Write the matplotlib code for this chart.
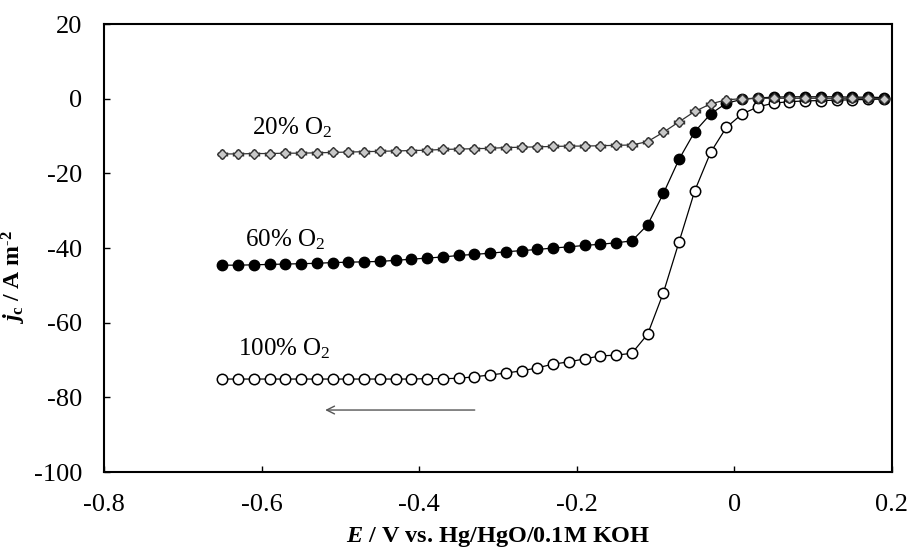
import matplotlib
matplotlib.use("Agg")
import matplotlib.pyplot as plt
import numpy as np

plt.rcParams['font.family'] = ['Liberation Serif', 'DejaVu Serif']
plt.rcParams['mathtext.fontset'] = 'custom'
plt.rcParams['mathtext.rm'] = 'Liberation Serif'
plt.rcParams['mathtext.it'] = 'Liberation Serif:italic:bold'
plt.rcParams['mathtext.bf'] = 'Liberation Serif:bold'
plt.rcParams['axes.unicode_minus'] = False

# ---- data ----
potential = [-0.65, -0.63, -0.61, -0.59, -0.57, -0.55, -0.53, -0.51, -0.49, -0.47,
             -0.45, -0.43, -0.41, -0.39, -0.37, -0.35, -0.33, -0.31, -0.29, -0.27,
             -0.25, -0.23, -0.21, -0.19, -0.17, -0.15, -0.13, -0.11, -0.09, -0.07,
             -0.05, -0.03, -0.01, 0.01, 0.03, 0.05, 0.07, 0.09, 0.11, 0.13,
             0.15, 0.17, 0.19]

j_20 = [-14.8, -14.8, -14.7, -14.7, -14.6, -14.6, -14.5, -14.4, -14.3, -14.2,
        -14.1, -14.0, -13.9, -13.8, -13.6, -13.5, -13.4, -13.3, -13.1, -13.0,
        -12.9, -12.8, -12.7, -12.7, -12.6, -12.5, -12.4, -11.5, -9.0, -6.2,
        -3.4, -1.4, -0.3, 0.0, 0.1, 0.1, 0.1, 0.1, 0.1, 0.1,
        0.1, 0.1, 0.0]
err_20 = [1.0] * len(potential)

j_60 = [-44.6, -44.6, -44.5, -44.4, -44.3, -44.2, -44.1, -43.9, -43.8, -43.7,
        -43.6, -43.3, -43.0, -42.7, -42.4, -42.0, -41.7, -41.4, -41.0, -40.7,
        -40.4, -40.0, -39.7, -39.3, -39.0, -38.6, -38.1, -33.8, -25.4, -16.2,
        -8.8, -4.1, -1.2, -0.2, 0.2, 0.4, 0.5, 0.5, 0.5, 0.5,
        0.4, 0.4, 0.3]

j_100 = [-75.1, -75.1, -75.1, -75.1, -75.1, -75.1, -75.1, -75.1, -75.1, -75.1,
         -75.1, -75.1, -75.1, -75.0, -75.0, -74.9, -74.5, -74.0, -73.5, -72.9,
         -72.1, -71.1, -70.5, -69.7, -68.9, -68.7, -68.2, -63.1, -52.0, -38.3,
         -24.6, -14.4, -7.7, -4.1, -2.2, -1.2, -0.8, -0.6, -0.5, -0.4,
         -0.3, -0.2, -0.1]

x_ticks = [-0.8, -0.6, -0.4, -0.2, 0, 0.2]
x_tick_labels = ['-0.8', '-0.6', '-0.4', '-0.2', '0', '0.2']
y_ticks = [-100, -80, -60, -40, -20, 0, 20]
y_tick_labels = ['-100', '-80', '-60', '-40', '-20', '0', '20']

labels = ['20% O$_2$', '60% O$_2$', '100% O$_2$']
label_pos = [(-0.612, -9.5), (-0.621, -39.5), (-0.630, -68.7)]

# ---- figure ----
fig = plt.figure(figsize=(9.09, 5.57), dpi=100)
ax = fig.add_axes([0.1147, 0.1526, 0.8663, 0.8043])

ax.plot(potential, j_100, '-', color='black', lw=0.9, marker='o', ms=7.5,
        mfc='white', mec='black', mew=1.1, zorder=3)
ax.plot(potential, j_60, '-', color='black', lw=0.9, marker='o', ms=7.5,
        mfc='black', mec='black', mew=1.0, zorder=4)
ax.errorbar(potential, j_20, yerr=err_20, xerr=0.006, fmt='-', color='#333333',
            lw=0.9, elinewidth=0.8, capsize=1.5, marker='D', ms=5.5,
            mfc='#c8c8c8', mec='#333333', mew=1.0, zorder=5)

for txt, (tx, ty) in zip(labels, label_pos):
    ax.text(tx, ty, txt, fontsize=18, ha='left', va='baseline')

ax.annotate('', xy=(-0.523, -83.4), xytext=(-0.326, -83.4),
            arrowprops=dict(arrowstyle='->', color='#555555', lw=1.0,
                            mutation_scale=14))

ax.set_xlim(-0.8, 0.2)
ax.set_ylim(-100, 20)
ax.set_xticks(x_ticks)
ax.set_xticklabels(x_tick_labels)
ax.set_yticks(y_ticks)
ax.set_yticklabels(y_tick_labels)
ax.tick_params(direction='in', length=4, width=1.0, labelsize=19)
ax.tick_params(axis='x', pad=16)
ax.tick_params(axis='y', pad=16)

for side in ['top', 'right', 'left', 'bottom']:
    ax.spines[side].set_linewidth(1.5)

ax.set_xlabel('$E$ / V vs. Hg/HgO/0.1M KOH', fontsize=17.5, fontweight='bold',
              labelpad=6)
ax.set_ylabel(r'$j_{\mathbf{c}}$ / A m$^{\text{-}\mathbf{2}}$', fontsize=17,
              fontweight='bold')
ax.yaxis.set_label_coords(-0.097, 0.435)

fig.savefig('out.png', dpi=100)
